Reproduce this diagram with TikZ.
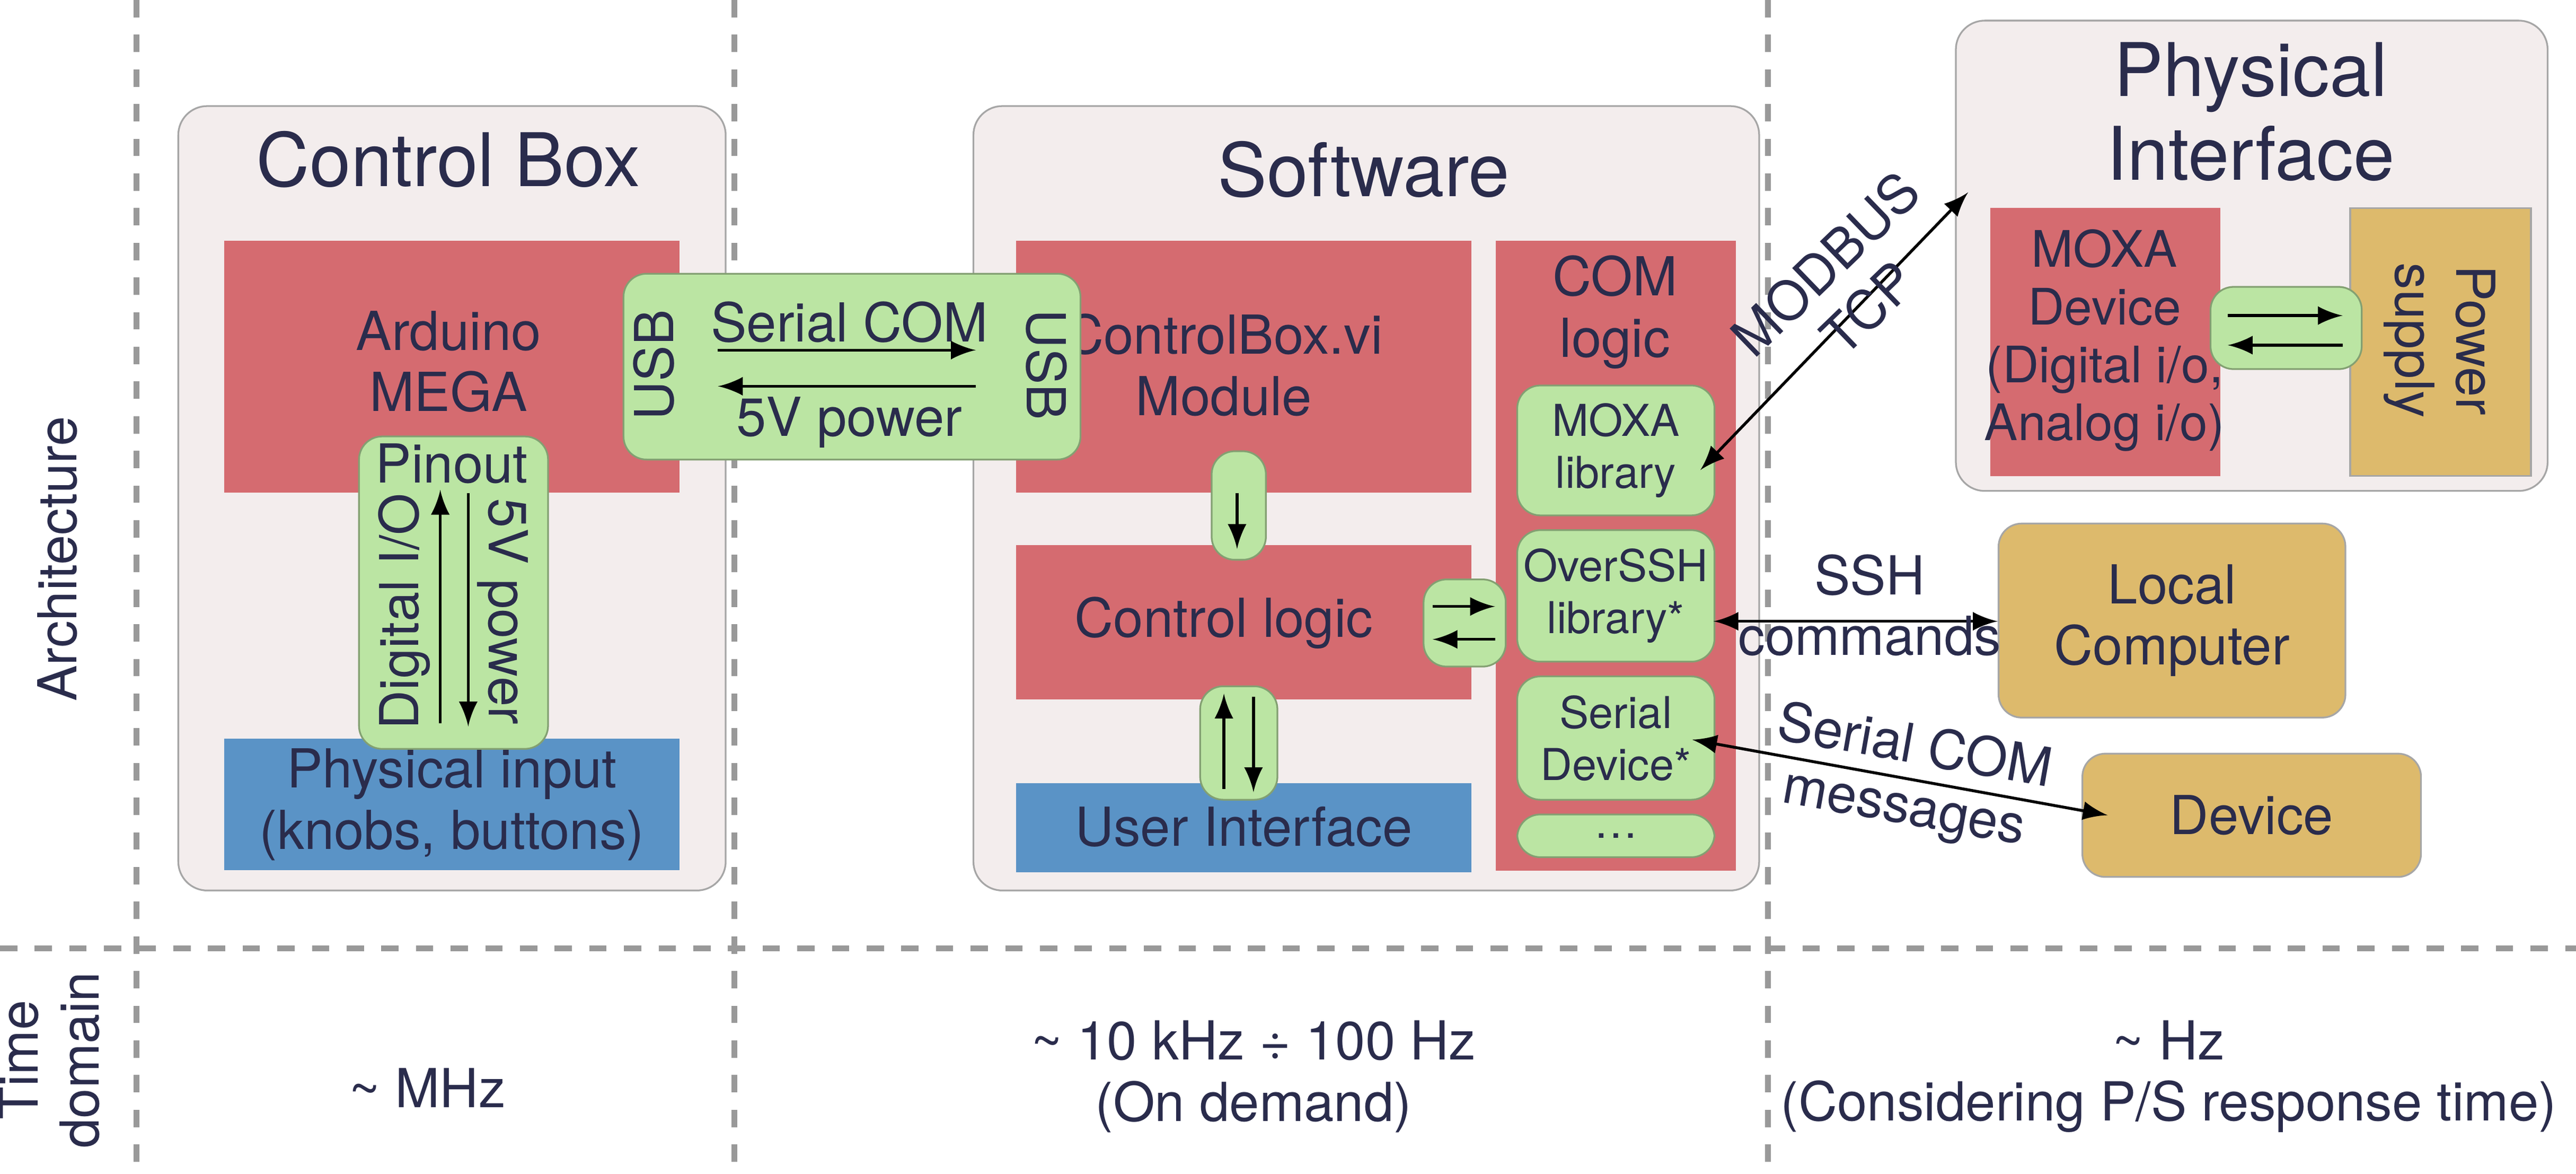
\documentclass[tikz,border=0pt]{standalone}
\usepackage{fontspec}
\setmainfont{TeX Gyre Heros}
\begin{document}
\definecolor{pnl}{HTML}{F3EDED}
\definecolor{rd}{HTML}{D56B70}
\definecolor{gr}{HTML}{BBE5A3}
\definecolor{bl}{HTML}{5A93C6}
\definecolor{tn}{HTML}{DDBA6C}
\definecolor{tx}{HTML}{2A2C4C}
\begin{tikzpicture}[x=0.01cm,y=-0.01cm,
 every node/.append style={align=center},
 font=\fontsize{9.3}{10.6}\selectfont, text=tx,
 box/.style={draw=gray!70,line width=0.3pt,rounded corners=2pt,inner sep=0pt,align=center},
 panel/.style={box,fill=pnl,rounded corners=5pt},
 red/.style={box,fill=rd,draw=none,rounded corners=0pt},
 grn/.style={box,fill=gr,rounded corners=4pt,draw=gr!70!black},
 blu/.style={box,fill=bl,draw=none,rounded corners=0pt},
 tan/.style={box,fill=tn,rounded corners=4pt},
 sm/.style={font=\fontsize{7.6}{9}\selectfont},
 md/.style={font=\fontsize{8.7}{10}\selectfont},
 ttl/.style={font=\fontsize{12.8}{14.5}\selectfont},
 sep/.style={draw=gray!80,line width=1pt,dash pattern=on 3pt off 3pt},
 ar/.style={-latex,line width=0.5pt,black},
 dar/.style={latex-latex,line width=0.5pt,black}]
\useasboundingbox (0,0) rectangle (1568,714);
\coordinate (v1t) at (83,0); \coordinate (v1b) at (83,714);
\coordinate (v2t) at (447,0); \coordinate (v2b) at (447,714);
\coordinate (v3t) at (1076,0); \coordinate (v3b) at (1076,714);
\coordinate (hl) at (0,577); \coordinate (hr) at (1568,577);
\draw[sep] (v1t)--(v1b); \draw[sep] (v2t)--(v2b); \draw[sep] (v3t)--(v3b); \draw[sep] (hl)--(hr);
\node[rotate=90] (arch) at (35,340) {Architecture};
\node[rotate=90] (td) at (30,645) {Time\\domain};
% Control box
\node[panel,minimum width=3.33cm,minimum height=4.77cm,anchor=north west] (cb) at (108,64) {};
\node[ttl] (cbt) at (273,97) {Control Box};
\node[red,minimum width=2.77cm,minimum height=1.53cm,anchor=north west] (ard) at (136,146) {};
\node (ardt) at (273,220) {Arduino\\MEGA};
\node[blu,minimum width=2.77cm,minimum height=0.8cm,anchor=north west] (pin) at (136,449) {Physical input\\(knobs, buttons)};
\node[grn,minimum width=1.15cm,minimum height=1.9cm,anchor=north west] (po) at (218,265) {};
\node (pot) at (275,282) {Pinout};
\node[rotate=90] (dio) at (246,372) {Digital I/O};
\node[rotate=-90] (fvp) at (306,372) {5V power};
\coordinate (a1s) at (268,440); \coordinate (a1e) at (268,298);
\coordinate (a2s) at (285,300); \coordinate (a2e) at (285,442);
\draw[ar] (a1s)--(a1e); \draw[ar] (a2s)--(a2e);
% Software
\node[panel,minimum width=4.78cm,minimum height=4.77cm,anchor=north west] (sw) at (592,64) {};
\node[ttl] (swt) at (830,103) {Software};
\node[red,minimum width=2.77cm,minimum height=1.53cm,anchor=north west] (cbv) at (618,146) {};
\node (cbvt) at (745,222) {ControlBox.vi\\Module};
\node[red,minimum width=2.77cm,minimum height=0.94cm,anchor=north west] (cl) at (618,331) {};
\node (clt) at (745,379) {Control logic};
\node[blu,minimum width=2.77cm,minimum height=0.54cm,anchor=north west] (ui) at (618,476) {};
\node (uit) at (757,503) {User Interface};
\node[red,minimum width=1.46cm,minimum height=3.83cm,anchor=north west] (com) at (910,146) {};
\node (comt) at (983,190) {COM\\logic};
\node[grn,sm,minimum width=1.2cm,minimum height=0.79cm,anchor=north west] (mx) at (923,234) {MOXA\\library};
\node[grn,sm,minimum width=1.2cm,minimum height=0.8cm,anchor=north west] (os) at (923,322) {OverSSH\\library*};
\node[grn,sm,minimum width=1.2cm,minimum height=0.75cm,anchor=north west] (sd) at (923,411) {Serial\\Device*};
\node[grn,sm,minimum width=1.2cm,minimum height=0.26cm,anchor=north west] (dots) at (923,495) {\dots};
% USB
\node[grn,minimum width=2.78cm,minimum height=1.13cm,anchor=north west] (usb) at (379,166) {};
\node[rotate=90] (u1) at (398,222) {USB};
\node[rotate=-90] (u2) at (637,222) {USB};
\node (sc) at (517,196) {Serial COM};
\node (fv) at (517,257) {5V power};
\coordinate (b1s) at (437,213); \coordinate (b1e) at (594,213);
\coordinate (b2s) at (594,235); \coordinate (b2e) at (437,235);
\draw[ar] (b1s)--(b1e); \draw[ar] (b2s)--(b2e);
% small connectors
\node[grn,minimum width=0.33cm,minimum height=0.66cm,anchor=north west] (c1) at (737,274) {};
\coordinate (c1s) at (753,300); \coordinate (c1e) at (753,334);
\draw[ar] (c1s)--(c1e);
\node[grn,minimum width=0.5cm,minimum height=0.53cm,anchor=north west] (c2) at (866,352) {};
\coordinate (c2a) at (872,369); \coordinate (c2b) at (910,369);
\coordinate (c2c) at (910,389); \coordinate (c2d) at (872,389);
\draw[ar] (c2a)--(c2b); \draw[ar] (c2c)--(c2d);
\node[grn,minimum width=0.47cm,minimum height=0.69cm,anchor=north west] (c3) at (730,417) {};
\coordinate (c3a) at (745,480); \coordinate (c3b) at (745,422);
\coordinate (c3c) at (763,424); \coordinate (c3d) at (763,482);
\draw[ar] (c3a)--(c3b); \draw[ar] (c3c)--(c3d);
% Physical interface
\node[panel,minimum width=3.6cm,minimum height=2.86cm,anchor=north west] (pi) at (1190,12) {};
\node[ttl] (pit) at (1370,68) {Physical\\Interface};
\node[red,minimum width=1.4cm,minimum height=1.63cm,anchor=north west] (md) at (1211,126) {};
\node[md] (mdt) at (1281,207) {MOXA\\Device\\(Digital i/o,\\Analog i/o)};
\node[tan,rounded corners=0pt,minimum width=1.1cm,minimum height=1.63cm,anchor=north west] (ps) at (1430,126) {};
\node[rotate=-90] (pst) at (1485,207) {Power\\supply};
\node[grn,minimum width=0.92cm,minimum height=0.5cm,anchor=north west] (c4) at (1345,174) {};
\coordinate (c4a) at (1356,192); \coordinate (c4b) at (1426,192);
\coordinate (c4c) at (1426,210); \coordinate (c4d) at (1356,210);
\draw[ar] (c4a)--(c4b); \draw[ar] (c4c)--(c4d);
\node[tan,minimum width=2.11cm,minimum height=1.18cm,anchor=north west] (lc) at (1216,318) {Local\\Computer};
\node[tan,minimum width=2.06cm,minimum height=0.75cm,anchor=north west] (dev) at (1267,458) {Device};
% long arrows
\coordinate (m1) at (1035,286); \coordinate (m2) at (1198,117);
\draw[dar] (m1)--(m2);
\node[rotate=44] (mt) at (1124,174) {MODBUS\\TCP};
\coordinate (s1) at (1043,378); \coordinate (s2) at (1216,378);
\draw[dar] (s1)--(s2);
\node (ssh) at (1138,350) {SSH};
\node (cmd) at (1138,387) {commands};
\coordinate (d1) at (1030,450); \coordinate (d2) at (1283,496);
\draw[dar] (d1)--(d2);
\node[rotate=-10] (scm) at (1162,474) {Serial COM\\messages};
% bottom
\node (t1) at (260,662) {\textasciitilde{} MHz};
\node (t2) at (763,655) {\textasciitilde{} 10 kHz ÷ 100 Hz\\(On demand)};
\node (t3) at (1320,655) {\textasciitilde{} Hz\\(Considering P/S response time)};
\end{tikzpicture}
\end{document}
